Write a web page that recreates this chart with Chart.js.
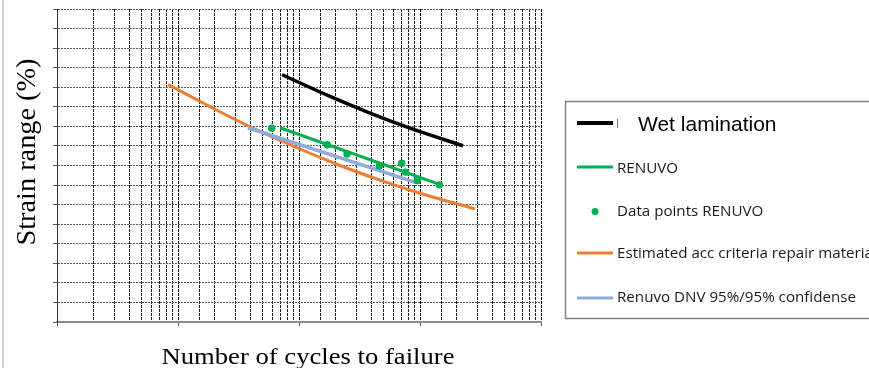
<!DOCTYPE html>
<html>
<head>
<meta charset="utf-8">
<script src="https://cdn.jsdelivr.net/npm/chart.js@4.4.1/dist/chart.umd.min.js"></script>
<style>
  body { margin: 0; background: #fff; }
  #wrap { width: 869px; height: 368px; }
</style>
</head>
<body>
<div id="wrap"><canvas id="snChart" width="869" height="368"></canvas></div>
<script>
// values (x = cycles, y = strain range %)
const wetCycles = [7240, 18040, 38620, 82660, 226700];
const wetStrain = [1.264, 1.153, 1.068, 0.991, 0.901];

const renuvoCycles = [6970, 149100];
const renuvoStrain = [0.993, 0.701];

const pointCycles = [5950, 17130, 24930, 46090, 70600, 76200, 95000, 144400];
const pointStrain = [0.991, 0.906, 0.859, 0.798, 0.812, 0.766, 0.723, 0.701];

const accCycles = [827, 3940, 21830, 49430, 100000, 284800];
const accStrain = [1.213, 0.998, 0.800, 0.720, 0.658, 0.578];

const dnvCycles = [3790, 94400];
const dnvStrain = [0.993, 0.711];

const legendLabels = ['Wet lamination', 'RENUVO', 'Data points RENUVO',
  'Estimated acc criteria repair material', 'Renuvo DNV 95%/95% confidense'];

const GREEN = '#00B050';
const ORANGE = '#ED7D31';
const BLUE = '#8FAADC';

function pts(xs, ys) {
    return xs.map((x, i) => ({ x: x, y: ys[i] }));
}

function isDecade(v) {
    const l = Math.log10(v);
    return Math.abs(l - Math.round(l)) < 1e-9;
}

// legend box + axis titles drawn by hand so they sit where the original has them
const extras = {
    id: 'extras',
    afterDraw(chart) {
        const ctx = chart.ctx;
        ctx.save();

        // light frame at the left edge
        ctx.strokeStyle = '#cfcfcf';
        ctx.lineWidth = 2;
        ctx.beginPath();
        ctx.moveTo(3, 0);
        ctx.lineTo(3, 368);
        ctx.stroke();

        // axis titles
        ctx.fillStyle = '#000';
        ctx.font = '24px "Liberation Serif"';
        ctx.textAlign = 'center';
        ctx.textBaseline = 'alphabetic';
        let t = 'Number of cycles to failure';
        let sx = 293 / ctx.measureText(t).width;
        ctx.save();
        ctx.translate(308, 364);
        ctx.scale(sx, 1);
        ctx.fillText(t, 0, 0);
        ctx.restore();

        ctx.font = '28px "Liberation Serif"';
        t = 'Strain range (%)';
        sx = 187 / ctx.measureText(t).width;
        ctx.save();
        ctx.translate(35, 152);
        ctx.rotate(-Math.PI / 2);
        ctx.scale(sx, 1);
        ctx.fillText(t, 0, 0);
        ctx.restore();

        // legend box (runs off the right edge)
        ctx.strokeStyle = '#808080';
        ctx.lineWidth = 1.5;
        ctx.strokeRect(565.5, 101.5, 400, 217);

        const x0 = 577, x1 = 613;
        const rows = [
            { y: 123, color: '#000', w: 4, kind: 'line' },
            { y: 167, color: GREEN, w: 3, kind: 'line' },
            { y: 211.5, color: GREEN, kind: 'dot' },
            { y: 253, color: ORANGE, w: 3, kind: 'line' },
            { y: 298, color: BLUE, w: 3, kind: 'line' }
        ];
        rows.forEach(r => {
            if (r.kind === 'line') {
                ctx.strokeStyle = r.color;
                ctx.lineWidth = r.w;
                ctx.beginPath();
                ctx.moveTo(x0, r.y);
                ctx.lineTo(x1, r.y);
                ctx.stroke();
            } else {
                ctx.fillStyle = r.color;
                ctx.beginPath();
                ctx.arc(595, r.y, 3.5, 0, Math.PI * 2);
                ctx.fill();
            }
        });

        // small leftover mark next to the first sample
        ctx.strokeStyle = '#777';
        ctx.lineWidth = 1;
        ctx.beginPath();
        ctx.moveTo(617.5, 119);
        ctx.lineTo(617.5, 128);
        ctx.stroke();

        ctx.fillStyle = '#000';
        ctx.textAlign = 'left';
        ctx.font = '21px "Liberation Sans"';
        ctx.fillText(legendLabels[0], 638, 130.5);

        ctx.fillStyle = '#1a1a1a';
        ctx.font = '14px "Open Sans"';
        const scl = 239 / ctx.measureText(legendLabels[4]).width;
        const base = [173, 216, 258, 302];
        for (let i = 1; i < 5; i++) {
            ctx.save();
            ctx.translate(617, base[i - 1]);
            ctx.scale(scl, 1);
            ctx.fillText(legendLabels[i], 0, 0);
            ctx.restore();
        }
        ctx.restore();
    }
};

const ctx = document.getElementById('snChart').getContext('2d');
const snChart = new Chart(ctx, {
    type: 'scatter',
    data: {
        datasets: [
            {
                label: legendLabels[2],
                data: pts(pointCycles, pointStrain),
                showLine: false,
                pointRadius: 3.7,
                pointBackgroundColor: GREEN,
                pointBorderWidth: 0
            },
            {
                label: legendLabels[0],
                data: pts(wetCycles, wetStrain),
                showLine: true,
                borderColor: '#000',
                borderWidth: 3.5,
                pointRadius: 0,
                cubicInterpolationMode: 'monotone'
            },
            {
                label: legendLabels[1],
                data: pts(renuvoCycles, renuvoStrain),
                showLine: true,
                borderColor: GREEN,
                borderWidth: 3,
                pointRadius: 0
            },
            {
                label: legendLabels[4],
                data: pts(dnvCycles, dnvStrain),
                showLine: true,
                borderColor: BLUE,
                borderWidth: 3.5,
                pointRadius: 0
            },
            {
                label: legendLabels[3],
                data: pts(accCycles, accStrain),
                showLine: true,
                borderColor: ORANGE,
                borderWidth: 3,
                pointRadius: 0,
                cubicInterpolationMode: 'monotone'
            }
        ]
    },
    options: {
        responsive: false,
        animation: false,
        layout: { padding: { left: 0, top: 9, right: 328, bottom: 0 } },
        plugins: {
            legend: { display: false },
            tooltip: { enabled: false }
        },
        scales: {
            x: {
                type: 'logarithmic',
                min: 100,
                max: 1000000,
                ticks: { display: false },
                grid: {
                    color: ctx => isDecade(ctx.tick.value) ? '#000' : '#1e1e1e',
                    tickColor: ctx => isDecade(ctx.tick.value) ? '#555' : 'rgba(0,0,0,0)',
                    tickLength: 4
                },
                border: { color: '#8c8c8c', width: 2, dash: [3, 1] },
                afterFit: s => { s.height = 46; }
            },
            y: {
                min: 0,
                max: 1.6,
                ticks: { display: false, stepSize: 0.1, maxTicksLimit: 20 },
                grid: { color: '#5a5a5a', tickColor: '#555', tickLength: 4 },
                border: { color: '#333', width: 1, dash: [2, 1] },
                afterFit: s => { s.height; s.width = 57; }
            }
        }
    },
    plugins: [extras]
});
</script>
</body>
</html>
